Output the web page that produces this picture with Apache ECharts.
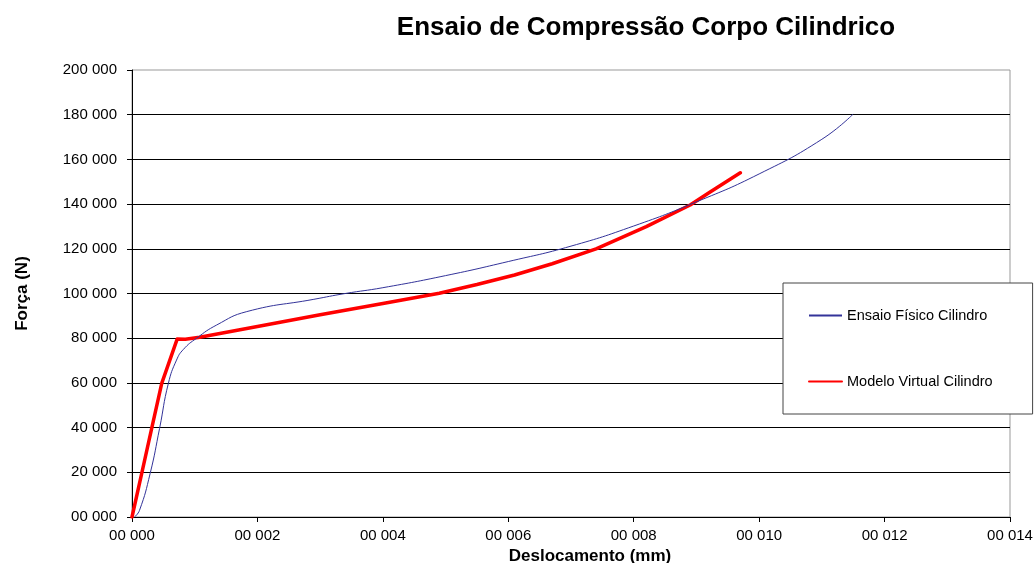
<!DOCTYPE html>
<html>
<head>
<meta charset="utf-8">
<script src="https://cdn.jsdelivr.net/npm/echarts@6/dist/echarts.min.js"></script>
<style>
html,body{margin:0;padding:0;background:#fff;}
#chart{width:1035px;height:563px;}
</style>
</head>
<body>
<div id="chart"></div>
<script>
const titleText = 'Ensaio de Compressão Corpo Cilindrico';
const xAxisName = 'Deslocamento (mm)';
const yAxisName = 'Força (N)';
const seriesNames = ['Ensaio Físico Cilindro', 'Modelo Virtual Cilindro'];

// Ensaio Físico Cilindro
const fisicoX = [0.00004, 0.00012, 0.00029, 0.00044, 0.00058, 0.00071, 0.00082, 0.00103, 0.00135, 0.00183, 0.0029, 0.0034, 0.0040, 0.0050, 0.0060, 0.0070, 0.0080, 0.0090, 0.0100, 0.0110, 0.0115];
const fisicoY = [0, 3000, 19550, 39700, 59800, 70200, 75000, 80000, 85900, 91900, 97400, 100000, 102600, 108000, 114300, 121200, 130200, 141000, 153500, 169000, 180300];

// Modelo Virtual Cilindro
const virtualX = [0, 0.000155, 0.000314, 0.000474, 0.00072, 0.00085, 0.00108, 0.0020, 0.0030, 0.0040, 0.0049, 0.0055, 0.0061, 0.0067, 0.0074, 0.0082, 0.0089, 0.0092, 0.0097];
const virtualY = [0, 19550, 39700, 59800, 79600, 79500, 80400, 85200, 90500, 95500, 100100, 104000, 108300, 113300, 120000, 129900, 139600, 145100, 154000];

function fmt(n) {
  let s = String(Math.round(n));
  while (s.length < 5) s = '0' + s;
  return s.replace(/\B(?=(\d{3})+(?!\d))/g, ' ');
}
function pairs(xs, ys) { return xs.map((x, i) => [x, ys[i]]); }

const chart = echarts.init(document.getElementById('chart'));
const FONT = '"Liberation Sans", Arial, sans-serif';
chart.setOption({
  animation: false,
  backgroundColor: '#fff',
  textStyle: { fontFamily: FONT },
  title: {
    text: titleText,
    left: 641, top: 10, textAlign: 'center',
    textStyle: { fontFamily: FONT, fontSize: 26, fontWeight: 'bold', color: '#000' }
  },
  grid: {
    left: 132, top: 70, right: 25, bottom: 46,
    outerBoundsMode: 'none', containLabel: false,
    show: true, borderColor: '#999', borderWidth: 1, backgroundColor: 'transparent'
  },
  legend: {
    orient: 'vertical',
    left: 783, top: 283,
    data: seriesNames,
    itemWidth: 33, itemHeight: 14, itemGap: 51,
    padding: [25, 40, 25, 25],
    backgroundColor: '#fff',
    borderColor: '#444', borderWidth: 1,
    itemStyle: { opacity: 0 },
    textStyle: { fontFamily: FONT, fontSize: 14.5, color: '#000' }
  },
  xAxis: {
    type: 'value', min: 0, max: 0.014, interval: 0.002,
    name: xAxisName, nameLocation: 'middle', nameGap: 27,
    nameTextStyle: { fontFamily: FONT, fontSize: 17, fontWeight: 'bold', color: '#000', padding: [0, 0, 0, 38] },
    axisLine: { show: true, lineStyle: { color: '#000', width: 1 } },
    axisTick: { show: true, length: 5, lineStyle: { color: '#000' } },
    axisLabel: { fontFamily: FONT, fontSize: 15, color: '#000', margin: 11, formatter: v => fmt(v * 1000) },
    splitLine: { show: false }
  },
  yAxis: {
    type: 'value', min: 0, max: 200000, interval: 20000,
    name: yAxisName, nameLocation: 'middle', nameGap: 101,
    nameTextStyle: { fontFamily: FONT, fontSize: 17, fontWeight: 'bold', color: '#000' },
    axisLine: { show: true, lineStyle: { color: '#000', width: 1 } },
    axisTick: { show: true, length: 5, lineStyle: { color: '#000' } },
    axisLabel: { fontFamily: FONT, fontSize: 15, color: '#000', margin: 15, formatter: v => fmt(v) },
    splitLine: { show: true, showMaxLine: false, lineStyle: { color: '#000', width: 1 } }
  },
  series: [
    {
      name: seriesNames[0], type: 'line', data: pairs(fisicoX, fisicoY),
      symbol: 'none', smooth: 0.5,
      lineStyle: { color: '#333399', width: 1 }, itemStyle: { color: '#333399' }, z: 3
    },
    {
      name: seriesNames[1], type: 'line', data: pairs(virtualX, virtualY),
      symbol: 'none', smooth: false,
      lineStyle: { color: '#ff0000', width: 3.5, join: 'round', cap: 'round' }, itemStyle: { color: '#ff0000' }, z: 2
    }
  ]
});
</script>
</body>
</html>
